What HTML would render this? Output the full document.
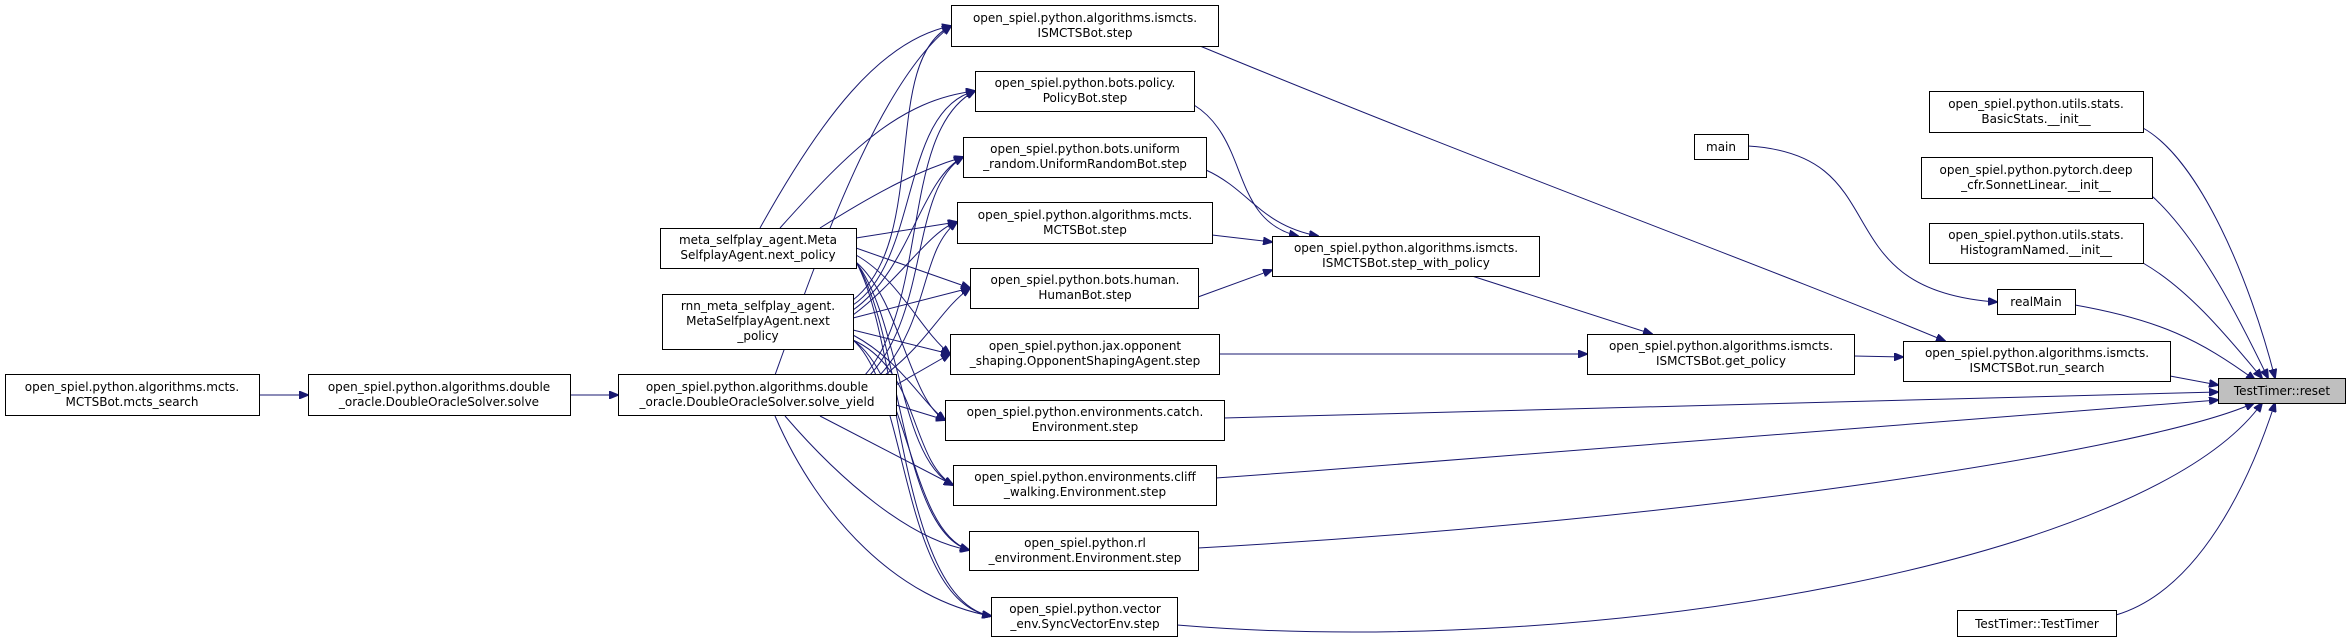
<!DOCTYPE html>
<html><head><meta charset="utf-8"><style>
html,body{margin:0;padding:0;background:#fff;}
svg{display:block;}
text{font-family:"DejaVu Sans","Liberation Sans",sans-serif;font-size:12px;fill:#000;}
rect{fill:#fff;stroke:#000;stroke-width:1;}
path{fill:none;stroke:#191970;stroke-width:1;}
</style></head><body>
<svg width="2348" height="640" viewBox="0 0 2348 640" xmlns="http://www.w3.org/2000/svg">
<defs><marker id="a" markerWidth="10" markerHeight="8" refX="9" refY="4" orient="auto" markerUnits="userSpaceOnUse"><path d="M0,0 L10,4 L0,8 Z" style="fill:#191970;stroke:#191970"/></marker></defs>
<g marker-end="url(#a)">
<path d="M260,395 L308,395"/>
<path d="M570,395 L618,395"/>
<!-- fan from meta -->
<path d="M760,228 C820,120 880,40 951,26"/>
<path d="M780,228 C850,150 900,100 975,91"/>
<path d="M820,228 C880,190 920,170 963,157"/>
<path d="M856,238 L957,222"/>
<path d="M856,248 L970,288"/>
<path d="M856,255 C900,280 920,330 950,354"/>
<path d="M856,262 C900,300 910,400 945,420"/>
<path d="M856,262 C900,320 900,460 953,485"/>
<path d="M856,262 C900,330 900,530 969,550"/>
<path d="M856,262 C900,340 900,600 991,616"/>
<!-- fan from rnn -->
<path d="M853,300 C930,240 880,60 951,26"/>
<path d="M853,305 C920,260 900,110 975,91"/>
<path d="M853,310 C910,270 920,180 963,157"/>
<path d="M853,315 C900,280 930,230 957,222"/>
<path d="M853,318 L970,288"/>
<path d="M853,330 L950,354"/>
<path d="M853,335 C900,360 920,400 945,420"/>
<path d="M853,340 C920,370 910,460 953,485"/>
<path d="M853,340 C910,380 910,530 969,550"/>
<path d="M853,340 C910,390 900,600 991,616"/>
<!-- fan from solve_yield -->
<path d="M775,375 C820,250 880,80 951,26"/>
<path d="M865,375 C930,300 900,130 975,91"/>
<path d="M870,375 C930,310 910,190 963,157"/>
<path d="M880,375 C930,320 920,250 957,222"/>
<path d="M885,375 C930,340 940,310 970,288"/>
<path d="M896,385 L950,354"/>
<path d="M896,405 L945,420"/>
<path d="M820,416 L953,485"/>
<path d="M785,416 C840,480 910,540 969,550"/>
<path d="M775,416 C820,520 900,600 991,616"/>
<!-- right part -->
<path d="M1200,46 C1500,170 1750,260 1945,341"/>
<path d="M1194,105 C1250,140 1230,220 1298,236"/>
<path d="M1206,170 C1250,190 1260,225 1318,236"/>
<path d="M1212,235 L1272,242"/>
<path d="M1198,297 L1272,270"/>
<path d="M1472,276 L1652,334"/>
<path d="M1219,354 L1587,354"/>
<path d="M1854,356 L1903,357"/>
<path d="M2170,376 L2218,385"/>
<path d="M1748,146 C1900,155 1820,290 1997,302"/>
<path d="M2075,305 C2160,320 2200,340 2255,380"/>
<path d="M2143,128 C2200,160 2250,280 2275,378"/>
<path d="M2152,196 C2200,240 2240,320 2268,378"/>
<path d="M2143,263 C2190,290 2230,340 2262,378"/>
<path d="M1224,418 L2218,392"/>
<path d="M1216,478 C1600,450 2000,420 2218,400"/>
<path d="M1198,548 C1700,520 2150,450 2254,403"/>
<path d="M1177,625 C1600,660 2150,560 2262,403"/>
<path d="M2116,615 C2200,590 2250,480 2275,403"/>
</g>
<g text-anchor="middle">
<rect x="5.5" y="374.5" width="254" height="41"/><text x="132" y="391">open_spiel.python.algorithms.mcts.</text><text x="132" y="406">MCTSBot.mcts_search</text>
<rect x="308.5" y="374.5" width="262" height="41"/><text x="439" y="391">open_spiel.python.algorithms.double</text><text x="439" y="406">_oracle.DoubleOracleSolver.solve</text>
<rect x="618.5" y="374.5" width="278" height="41"/><text x="757" y="391">open_spiel.python.algorithms.double</text><text x="757" y="406">_oracle.DoubleOracleSolver.solve_yield</text>
<rect x="660.5" y="228.5" width="196" height="40"/><text x="758" y="244">meta_selfplay_agent.Meta</text><text x="758" y="259">SelfplayAgent.next_policy</text>
<rect x="662.5" y="294.5" width="191" height="55"/><text x="758" y="310">rnn_meta_selfplay_agent.</text><text x="758" y="325">MetaSelfplayAgent.next</text><text x="758" y="340">_policy</text>
<rect x="951.5" y="5.5" width="267" height="41"/><text x="1085" y="22">open_spiel.python.algorithms.ismcts.</text><text x="1085" y="37">ISMCTSBot.step</text>
<rect x="975.5" y="71.5" width="219" height="40"/><text x="1085" y="87">open_spiel.python.bots.policy.</text><text x="1085" y="102">PolicyBot.step</text>
<rect x="963.5" y="137.5" width="243" height="40"/><text x="1085" y="153">open_spiel.python.bots.uniform</text><text x="1085" y="168">_random.UniformRandomBot.step</text>
<rect x="957.5" y="202.5" width="255" height="41"/><text x="1085" y="219">open_spiel.python.algorithms.mcts.</text><text x="1085" y="234">MCTSBot.step</text>
<rect x="970.5" y="268.5" width="228" height="40"/><text x="1085" y="284">open_spiel.python.bots.human.</text><text x="1085" y="299">HumanBot.step</text>
<rect x="950.5" y="334.5" width="269" height="40"/><text x="1085" y="350">open_spiel.python.jax.opponent</text><text x="1085" y="365">_shaping.OpponentShapingAgent.step</text>
<rect x="945.5" y="400.5" width="279" height="40"/><text x="1085" y="416">open_spiel.python.environments.catch.</text><text x="1085" y="431">Environment.step</text>
<rect x="953.5" y="465.5" width="263" height="40"/><text x="1085" y="481">open_spiel.python.environments.cliff</text><text x="1085" y="496">_walking.Environment.step</text>
<rect x="969.5" y="531.5" width="229" height="39"/><text x="1085" y="547">open_spiel.python.rl</text><text x="1085" y="562">_environment.Environment.step</text>
<rect x="991.5" y="597.5" width="186" height="39"/><text x="1085" y="613">open_spiel.python.vector</text><text x="1085" y="628">_env.SyncVectorEnv.step</text>
<rect x="1272.5" y="236.5" width="267" height="40"/><text x="1406" y="252">open_spiel.python.algorithms.ismcts.</text><text x="1406" y="267">ISMCTSBot.step_with_policy</text>
<rect x="1587.5" y="334.5" width="267" height="40"/><text x="1721" y="350">open_spiel.python.algorithms.ismcts.</text><text x="1721" y="365">ISMCTSBot.get_policy</text>
<rect x="1903.5" y="341.5" width="267" height="40"/><text x="2037" y="357">open_spiel.python.algorithms.ismcts.</text><text x="2037" y="372">ISMCTSBot.run_search</text>
<rect x="1694.5" y="134.5" width="54" height="25"/><text x="1721" y="151">main</text>
<rect x="1997.5" y="289.5" width="78" height="25"/><text x="2036" y="306">realMain</text>
<rect x="1929.5" y="91.5" width="214" height="41"/><text x="2036" y="108">open_spiel.python.utils.stats.</text><text x="2036" y="123">BasicStats.__init__</text>
<rect x="1921.5" y="157.5" width="231" height="41"/><text x="2036" y="174">open_spiel.python.pytorch.deep</text><text x="2036" y="189">_cfr.SonnetLinear.__init__</text>
<rect x="1929.5" y="223.5" width="214" height="40"/><text x="2036" y="239">open_spiel.python.utils.stats.</text><text x="2036" y="254">HistogramNamed.__init__</text>
<rect x="1957.5" y="610.5" width="159" height="26"/><text x="2037" y="628">TestTimer::TestTimer</text>
<rect x="2218.5" y="378.5" width="127" height="25" style="fill:#bfbfbf"/><text x="2282" y="395">TestTimer::reset</text>
</g>
</svg>
</body></html>
